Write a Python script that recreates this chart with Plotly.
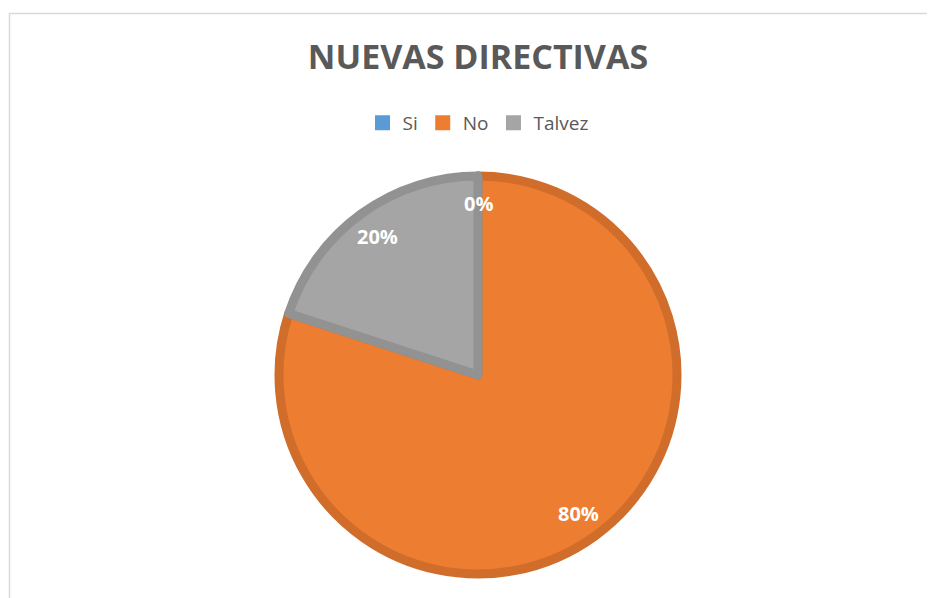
import math
import plotly.graph_objects as go

labels = ["Si", "No", "Talvez"]
values = [0, 80, 20]

colors = ["#5B9BD5", "#ED7D31", "#A5A5A5"]
borders = ["#4F89BD", "#D06D2B", "#929292"]

# the page adds an 8px body margin, so positions are shifted back by 8
W, H = 935, 598
cx, cy, R = 470, 367, 199

fig = go.Figure(
    go.Pie(
        labels=labels,
        values=values,
        sort=False,
        direction="clockwise",
        rotation=0,
        marker=dict(colors=colors, line=dict(color=borders, width=9)),
        textinfo="none",
        showlegend=False,
        domain=dict(
            x=[(cx - R) / W, (cx + R) / W],
            y=[1 - (cy + R) / H, 1 - (cy - R) / H],
        ),
    )
)

# legend with plain solid squares
for lab, col in zip(labels, colors):
    fig.add_trace(
        go.Scatter(
            x=[None], y=[None], mode="markers", name=lab,
            marker=dict(symbol="square", size=15, color=col),
        )
    )

# data labels along each slice's mid angle, like Excel's best fit
total = sum(values)
start = 0
for v in values:
    frac = v / total
    mid = (start + frac / 2) * 2 * math.pi
    start += frac
    r = 0.86 * R
    px_x = cx + r * math.sin(mid)
    px_y = cy - r * math.cos(mid)
    fig.add_annotation(
        x=px_x / W, y=1 - px_y / H, xref="paper", yref="paper",
        xanchor="center", yanchor="middle",
        text=f"<b>{round(frac * 100)}%</b>", showarrow=False,
        font=dict(family="Open Sans", size=20, color="white"),
    )

# chart frame
fig.add_shape(
    type="rect", xref="paper", yref="paper",
    x0=1.5 / W, x1=1.02, y0=-0.02, y1=1 - 5.5 / H,
    line=dict(color="#D9D9D9", width=1.5), fillcolor="rgba(0,0,0,0)",
)

fig.update_layout(
    width=W,
    height=H,
    margin=dict(l=0, r=0, t=0, b=0),
    paper_bgcolor="white",
    plot_bgcolor="white",
    xaxis=dict(visible=False),
    yaxis=dict(visible=False),
    title=dict(
        text="<b>NUEVAS DIRECTIVAS</b>",
        x=470 / W, xanchor="center",
        y=1 - 49 / H, yanchor="middle",
        font=dict(family="Open Sans", size=34, color="#595959"),
    ),
    legend=dict(
        orientation="h",
        x=470 / W, xanchor="center",
        y=1 - 115 / H, yanchor="middle",
        font=dict(family="Open Sans", size=19, color="#595959"),
        traceorder="normal",
        itemwidth=30,
    ),
)

fig.write_html("out.html")
